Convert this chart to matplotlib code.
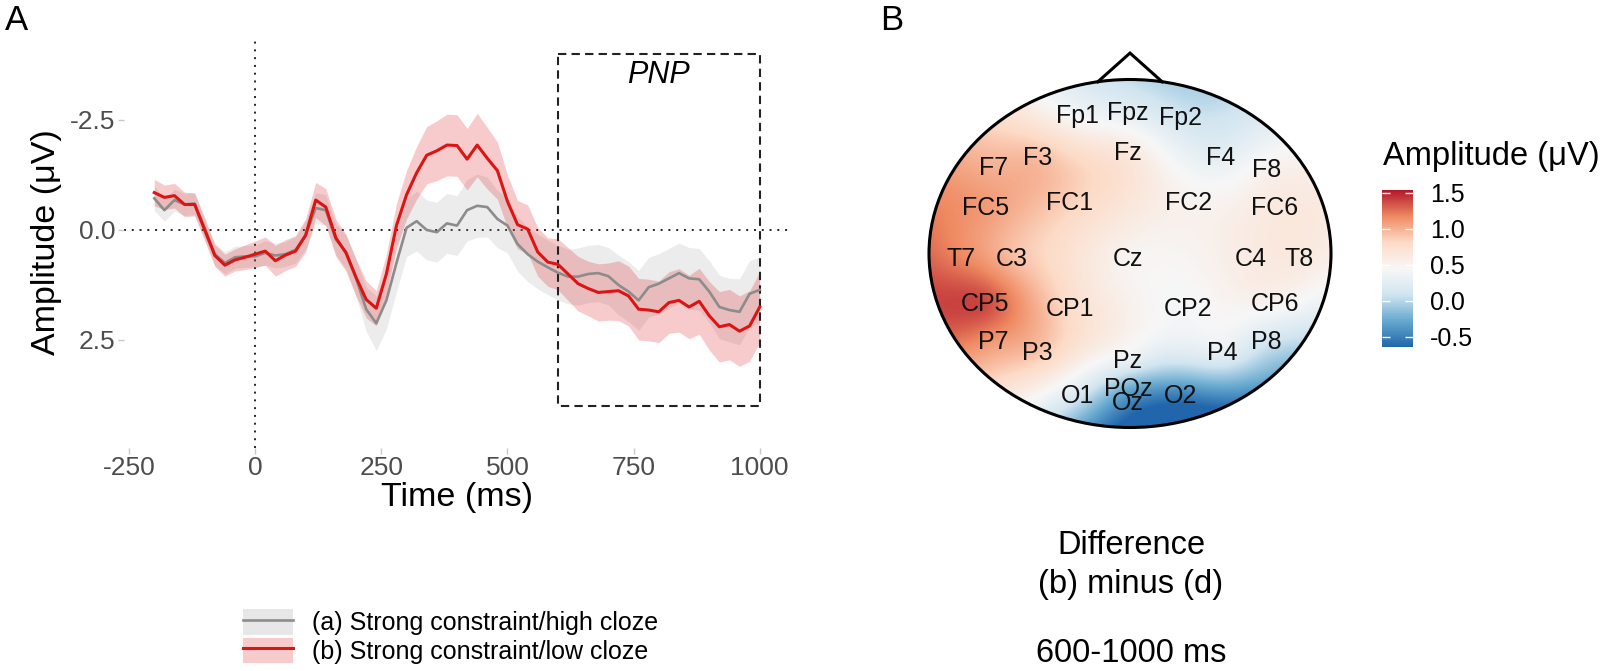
import numpy as np
import matplotlib
matplotlib.use("Agg")
import matplotlib.pyplot as plt
from matplotlib.patches import Circle, Rectangle, Patch
from matplotlib.lines import Line2D
from matplotlib.colors import LinearSegmentedColormap

plt.rcParams['font.family'] = ['Liberation Sans', 'DejaVu Sans']
plt.rcParams['axes.unicode_minus'] = False

# ---- panel A data: ERP waveforms (uV), 20 ms steps from -200 to 1000 ms ----
time = np.arange(-200, 1001, 20)

high_cloze = [-0.72, -0.45, -0.68, -0.58, -0.60, -0.05, 0.55, 0.75, 0.62, 0.60,
              0.60, 0.52, 0.58, 0.55, 0.45, 0.12, -0.50, -0.45, 0.22, 0.50,
              1.10, 1.80, 2.12, 1.60, 0.75, -0.05, -0.20, 0.00, 0.05, -0.15,
              -0.10, -0.45, -0.55, -0.52, -0.25, -0.10, 0.32, 0.55, 0.72, 0.85,
              0.97, 1.06, 1.06, 1.00, 0.98, 1.05, 1.25, 1.40, 1.60, 1.30,
              1.22, 1.10, 0.98, 1.10, 1.12, 1.40, 1.75, 1.82, 1.86, 1.45,
              1.36]
high_cloze_ci = [0.28, 0.25, 0.25, 0.25, 0.25, 0.25, 0.25, 0.25, 0.25, 0.25,
                 0.25, 0.28, 0.28, 0.28, 0.30, 0.32, 0.35, 0.35, 0.35, 0.38,
                 0.42, 0.50, 0.62, 0.65, 0.65, 0.65, 0.68, 0.68, 0.68, 0.68,
                 0.68, 0.70, 0.72, 0.68, 0.65, 0.62, 0.62, 0.62, 0.62, 0.62,
                 0.62, 0.62, 0.65, 0.65, 0.65, 0.65, 0.68, 0.68, 0.68, 0.68,
                 0.68, 0.68, 0.68, 0.70, 0.70, 0.70, 0.72, 0.72, 0.75, 0.75,
                 0.75]

low_cloze = [-0.85, -0.74, -0.78, -0.58, -0.58, 0.00, 0.58, 0.80, 0.68, 0.62,
             0.55, 0.48, 0.70, 0.57, 0.48, 0.12, -0.68, -0.52, 0.18, 0.52,
             1.08, 1.58, 1.78, 1.00, -0.10, -0.80, -1.30, -1.70, -1.80, -1.93,
             -1.92, -1.61, -1.93, -1.63, -1.35, -0.65, -0.12, -0.02, 0.50, 0.73,
             0.78, 1.00, 1.22, 1.33, 1.42, 1.40, 1.38, 1.50, 1.80, 1.82,
             1.86, 1.65, 1.60, 1.75, 1.62, 1.95, 2.20, 2.15, 2.30, 2.18,
             1.75]
low_cloze_ci = [0.30, 0.28, 0.28, 0.28, 0.26, 0.25, 0.25, 0.25, 0.25, 0.28,
                0.30, 0.32, 0.35, 0.35, 0.35, 0.38, 0.40, 0.42, 0.42, 0.42,
                0.42, 0.42, 0.40, 0.45, 0.50, 0.55, 0.60, 0.65, 0.68, 0.70,
                0.70, 0.70, 0.72, 0.70, 0.65, 0.60, 0.55, 0.55, 0.55, 0.55,
                0.58, 0.60, 0.62, 0.62, 0.65, 0.65, 0.68, 0.68, 0.70, 0.70,
                0.70, 0.70, 0.72, 0.72, 0.75, 0.78, 0.80, 0.80, 0.80, 0.80,
                0.80]

pnp_window = [600, 1000]
pnp_amp = [-4, 4]
labels = ['(a) Strong constraint/high cloze', '(b) Strong constraint/low cloze']

# ---- panel B data: difference topography 600-1000 ms ----
electrodes = ['Fp1', 'Fpz', 'Fp2', 'F7', 'F3', 'Fz', 'F4', 'F8',
              'FC5', 'FC1', 'FC2', 'FC6', 'T7', 'C3', 'Cz', 'C4', 'T8',
              'CP5', 'CP1', 'CP2', 'CP6', 'P7', 'P3', 'Pz', 'P4', 'P8',
              'O1', 'POz', 'Oz', 'O2']
elec_x = [-0.26, -0.01, 0.25, -0.68, -0.46, -0.01, 0.45, 0.68,
          -0.72, -0.30, 0.29, 0.72, -0.84, -0.59, -0.01, 0.60, 0.84,
          -0.72, -0.30, 0.29, 0.72, -0.68, -0.46, -0.01, 0.46, 0.68,
          -0.26, -0.01, -0.01, 0.25]
elec_y = [0.79, 0.81, 0.78, 0.49, 0.55, 0.58, 0.55, 0.48,
          0.26, 0.29, 0.29, 0.26, -0.03, -0.03, -0.03, -0.03, -0.03,
          -0.29, -0.32, -0.32, -0.29, -0.51, -0.57, -0.62, -0.57, -0.51,
          -0.82, -0.78, -0.86, -0.82]
diff_amp = [0.42, 0.28, 0.12, 1.00, 0.95, 0.65, 0.28, 0.52,
            1.10, 0.85, 0.52, 0.62, 1.18, 0.95, 0.50, 0.60, 0.62,
            1.38, 0.78, 0.42, 0.50, 1.10, 0.92, 0.32, 0.30, 0.12,
            0.15, -0.25, -0.45, -0.50]
cbar_ticks = [-0.5, 0.0, 0.5, 1.0, 1.5]
nose_x = [-0.16, 0.0, 0.16]
nose_y = [0.987, 1.152, 0.987]

W, H = 1603, 671


def px_box(l, t, r, b):
    return [l / W, 1 - b / H, (r - l) / W, (b - t) / H]


fig = plt.figure(figsize=(W / 100, H / 100), dpi=100)
fig.patch.set_facecolor('white')

# ================= panel A =================
ax = fig.add_axes(px_box(124, 37, 790, 448))
gray_c = '#8c8c8c'
red_c = '#dc1414'
g = np.array(high_cloze)
gci = np.array(high_cloze_ci)
r = np.array(low_cloze)
rci = np.array(low_cloze_ci)
ax.fill_between(time, g - gci, g + gci, color='#969696', alpha=0.18, lw=0)
ax.fill_between(time, r - rci, r + rci, color=red_c, alpha=0.22, lw=0)
ax.plot(time, g, color=gray_c, lw=1.9, solid_joinstyle='round')
ax.plot(time, r, color=red_c, lw=2.2, solid_joinstyle='round')
ax.axhline(0, color='#222222', lw=1.4, ls=(0, (1, 3)), zorder=0.5)
ax.axvline(0, color='#222222', lw=1.4, ls=(0, (1, 3)), zorder=0.5)
ax.add_patch(Rectangle((pnp_window[0], pnp_amp[0]), pnp_window[1] - pnp_window[0],
                       pnp_amp[1] - pnp_amp[0], fill=False, ec='#222222', lw=1.5,
                       ls=(0, (4, 2.5))))
ax.text(np.mean(pnp_window), -3.52, 'PNP', style='italic', ha='center', va='center',
        fontsize=22)
ax.set_xlim(-260, 1060)
ax.set_ylim(4.955, -4.386)
ax.set_xticks([-250, 0, 250, 500, 750, 1000])
ax.set_yticks([-2.5, 0, 2.5])
ax.set_yticklabels(['-2.5', '0.0', '2.5'])
for s in ax.spines.values():
    s.set_visible(False)
ax.tick_params(color='#c8c8c8', labelcolor='#4d4d4d', labelsize=19, length=4,
               width=1, pad=2)
ax.set_xlabel('Time (ms)', fontsize=24.5)
ax.set_ylabel('Amplitude (μV)', fontsize=24.5)
ax.xaxis.set_label_coords(0.5, -0.083)
ax.yaxis.set_label_coords(-0.093, 0.5)

handles = [(Patch(facecolor='#969696', alpha=0.22, lw=0), Line2D([], [], color=gray_c, lw=1.9)),
           (Patch(facecolor=red_c, alpha=0.22, lw=0), Line2D([], [], color=red_c, lw=2.2))]
fig.legend(handles, labels, loc='upper left', bbox_to_anchor=(243 / W, 1 - 609 / H),
           frameon=False, fontsize=18, handlelength=2.0, handleheight=1.2,
           handletextpad=0.75, labelspacing=0.1, borderpad=0, borderaxespad=0)

# ================= panel B =================
tax = fig.add_axes(px_box(888.8, 36, 1371.2, 462.3))
tax.set_xlim(-1.2, 1.2)
tax.set_ylim(-1.2, 1.25)
tax.axis('off')

ex = np.array(elec_x)
ey = np.array(elec_y)
ez = np.array(diff_amp)


def tps(rr):
    with np.errstate(divide='ignore', invalid='ignore'):
        out = rr ** 2 * np.log(rr)
    return np.where(rr > 0, out, 0.0)


n = len(ex)
K = tps(np.hypot(ex[:, None] - ex[None, :], ey[:, None] - ey[None, :]))
P = np.column_stack([np.ones(n), ex, ey])
A = np.zeros((n + 3, n + 3))
A[:n, :n] = K + 1e-4 * np.eye(n)
A[:n, n:] = P
A[n:, :n] = P.T
coef = np.linalg.solve(A, np.concatenate([ez, np.zeros(3)]))
gx, gy = np.meshgrid(np.linspace(-1, 1, 301), np.linspace(-1, 1, 301))
Kg = tps(np.hypot(gx.ravel()[:, None] - ex[None, :], gy.ravel()[:, None] - ey[None, :]))
Z = (Kg @ coef[:n] + coef[n] + coef[n + 1] * gx.ravel() + coef[n + 2] * gy.ravel()).reshape(gx.shape)

cmap = LinearSegmentedColormap.from_list(
    'rdbu7', ['#2166AC', '#67A9CF', '#D1E5F0', '#F7F7F7', '#FDDBC7', '#EF8A62', '#B2182B'])
im = tax.imshow(Z, extent=(-1, 1, -1, 1), origin='lower', cmap=cmap, vmin=-0.64,
                vmax=1.54, interpolation='bilinear', aspect='auto')
im.set_clip_path(Circle((0, 0), 1, transform=tax.transData))
tax.add_patch(Circle((0, 0), 1, fill=False, ec='black', lw=2.2))
tax.plot(nose_x, nose_y, color='black', lw=2.2, solid_joinstyle='miter')
for name, x, y in zip(electrodes, elec_x, elec_y):
    tax.text(x, y, name, ha='center', va='center', fontsize=18, color='#111111')

cax = fig.add_axes(px_box(1382, 190, 1413, 347))
cb = fig.colorbar(im, cax=cax, ticks=cbar_ticks)
cb.outline.set_visible(False)
cax.set_yticklabels(['%.1f' % v for v in cbar_ticks])
cax.tick_params(direction='in', color='white', length=6, width=1, left=True, right=True,
                labelsize=18, pad=12)
fig.text(1383 / W, 1 - 156 / H, 'Amplitude (μV)', fontsize=23.5, ha='left', va='center')

fig.text(1131 / W, 1 - 545 / H, 'Difference', fontsize=23.5, ha='center', va='center')
fig.text(1131 / W, 1 - 584 / H, '(b) minus (d)', fontsize=23.5, ha='center', va='center')
fig.text(1131 / W, 1 - 654 / H, '600-1000 ms', fontsize=23.5, ha='center', va='center')

fig.text(5 / W, 1 - 20 / H, 'A', fontsize=25, ha='left', va='center')
fig.text(880 / W, 1 - 20 / H, 'B', fontsize=25, ha='left', va='center')

fig.savefig('out.png', dpi=100, facecolor='white')
